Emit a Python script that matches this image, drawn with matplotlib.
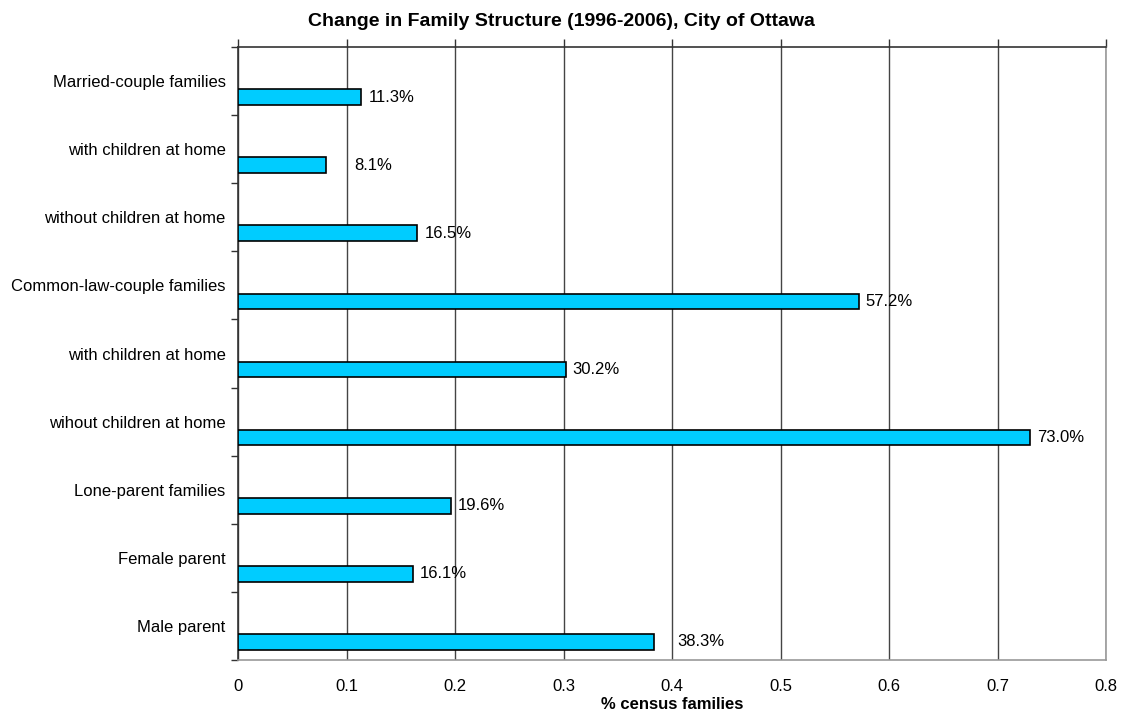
import matplotlib
matplotlib.use('Agg')
import matplotlib.pyplot as plt
import numpy as np

plt.rcParams['font.family'] = ['Liberation Sans', 'DejaVu Sans']

# data
categories = ['Married-couple families', 'with children at home', 'without children at home',
              'Common-law-couple families', 'with children at home', 'wihout children at home',
              'Lone-parent families', 'Female parent', 'Male parent']
change = [0.113, 0.081, 0.165, 0.572, 0.302, 0.730, 0.196, 0.161, 0.383]
labels = ['11.3%', '8.1%', '16.5%', '57.2%', '30.2%', '73.0%', '19.6%', '16.1%', '38.3%']
xticks = [0, 0.1, 0.2, 0.3, 0.4, 0.5, 0.6, 0.7, 0.8]

# some labels sit further from the bar end in the original (pixels)
nudge = [8, 28, 8, 7, 7, 7, 7, 7, 24]

W, H = 1123, 723
fs = 12
fig = plt.figure(figsize=(W / 100, H / 100), dpi=100)
ax = fig.add_axes([238 / W, (H - 660) / H, (1106 - 238) / W, (660 - 47) / H])

pos = np.arange(len(categories))
bar_off = 0.235
ax.barh(pos + bar_off, change, height=0.23, color='#00CCFF', edgecolor='black',
        linewidth=1.2, zorder=3)

for y, v, lab, dx in zip(pos + bar_off, change, labels, nudge):
    ax.annotate(lab, (v, y), xytext=(dx, 0), textcoords='offset pixels',
                ha='left', va='center', fontsize=fs, color='black', zorder=4)

ax.set_xlim(0, 0.8)
ax.set_ylim(len(categories) - 0.5, -0.5)
ax.set_xticks(xticks)
ax.set_xticklabels([f'{t:g}' for t in xticks])
ax.set_yticks(pos)
ax.set_yticklabels(categories)
ax.set_yticks(np.arange(len(categories) + 1) - 0.5, minor=True)

ax.tick_params(axis='x', which='major', top=True, bottom=False, labelbottom=True,
               direction='out', length=6, width=1, color='#333333', labelsize=fs, pad=8)
ax.tick_params(axis='y', which='major', length=0, labelsize=fs, pad=9)
ax.tick_params(axis='y', which='minor', left=True, direction='out', length=5, width=1,
               color='#333333')

ax.grid(axis='x', color='#444444', linewidth=1, zorder=1)
ax.set_axisbelow(True)

ax.spines['top'].set_color('#333333')
ax.spines['left'].set_color('#333333')
ax.spines['bottom'].set_color('#999999')
ax.spines['right'].set_color('#999999')
for s in ax.spines.values():
    s.set_linewidth(1.2)

ax.set_xlabel('% census families', fontsize=fs, fontweight='bold', labelpad=2)
fig.text(0.5, 1 - 22 / H, 'Change in Family Structure (1996-2006), City of Ottawa',
         ha='center', va='center', fontsize=14, fontweight='bold')

fig.savefig('out.png', dpi=100)
